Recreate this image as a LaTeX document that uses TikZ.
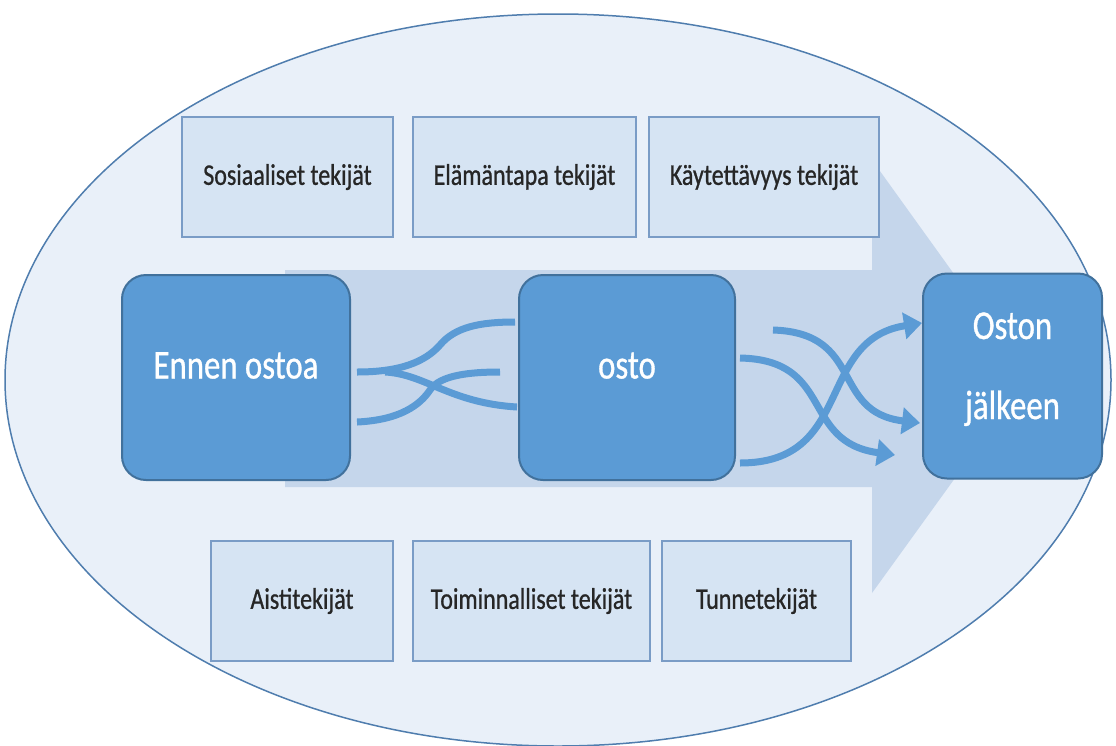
\documentclass[tikz,border=0pt]{standalone}
\usepackage{fontspec}
\setmainfont{Carlito}
\newfontfamily\cfont[FakeStretch=0.8,FakeBold=0.8]{Carlito}
\usetikzlibrary{arrows.meta}
\definecolor{ellfill}{HTML}{E9F0F9}
\definecolor{elldraw}{HTML}{4F7DAE}
\definecolor{arrfill}{HTML}{C5D6EB}
\definecolor{boxfill}{HTML}{D6E4F3}
\definecolor{boxdraw}{HTML}{7A9CC6}
\definecolor{bigfill}{HTML}{5B9BD5}
\definecolor{bigdraw}{HTML}{41719C}
\begin{document}
\begin{tikzpicture}[x=1pt,y=-1pt,
  factor/.style={draw=boxdraw, line width=1.5pt, fill=boxfill, inner sep=0pt, minimum height=120pt,
    font=\cfont\fontsize{30}{36}\selectfont, text=black!85},
  stage/.style={draw=bigdraw, line width=2pt, fill=bigfill, rounded corners=24pt, inner sep=0pt,
    minimum height=205pt, font=\cfont\fontsize{41}{48}\selectfont, text=white},
  stagetext/.style={anchor=base, inner sep=0pt, font=\cfont\fontsize{41}{48}\selectfont, text=white},
  flow/.style={draw=bigfill, line width=7pt},
  flowarrow/.style={flow, -{Triangle[length=18pt,width=26pt]}}]
\useasboundingbox (0,0) rectangle (1116,745);
% background ellipse
\draw[draw=elldraw, line width=1.5pt, fill=ellfill] (558,380) ellipse [x radius=553pt, y radius=366pt];
% big process arrow
\fill[arrfill] (285,270) -- (872,270) -- (872,160) -- (1028,377) -- (872,593) -- (872,487) -- (285,487) -- cycle;
% factor boxes
\node[factor, minimum width=211pt] (sos) at (287.5,177) {Sosiaaliset tekijät};
\node[factor, minimum width=223pt] (ela) at (524.5,177) {Elämäntapa tekijät};
\node[factor, minimum width=230pt] (kay) at (764,177) {Käytettävyys tekijät};
\node[factor, minimum width=182pt] (ais) at (302,601) {Aistitekijät};
\node[factor, minimum width=237pt] (toi) at (531.5,601) {Toiminnalliset tekijät};
\node[factor, minimum width=189pt] (tun) at (756.5,601) {Tunnetekijät};
% stages
\node[stage, minimum width=228pt, text height=26pt, text depth=24pt] (ennen) at (236,377.5) {Ennen ostoa};
\node[stage, minimum width=216pt, text height=26pt, text depth=24pt] (osto) at (627,377.5) {osto};
\node[stage, minimum width=179pt] (oj) at (1012.5,376) {};
\node[stagetext] (oj1) at (1012.5,339) {Oston};
\node[stagetext] (oj2) at (1012.5,419) {jälkeen};
% flow coordinates
\coordinate (a0) at (357,372);
\coordinate (a1) at (515,322);
\coordinate (c0) at (385,372);
\coordinate (c1) at (517,407);
\coordinate (b0) at (357,422);
\coordinate (b1) at (500,372);
\coordinate (d0) at (773,330);
\coordinate (d1) at (920,423);
\coordinate (e0) at (740,358);
\coordinate (e1) at (895,455);
\coordinate (f0) at (740,463);
\coordinate (f1) at (922,323);
% left flows
\draw[flow] (a0) .. controls (400,372) and (425,362) .. (440,345) .. controls (455,327) and (480,322) .. (a1);
\draw[flow] (c0) .. controls (425,374) and (450,403) .. (c1);
\draw[flow] (b0) .. controls (400,420) and (420,405) .. (430,390) .. controls (440,375) and (470,372) .. (b1);
% right flows
\draw[flowarrow] (d0) .. controls (865,333) and (830,412) .. (d1);
\draw[flowarrow] (e0) .. controls (835,360) and (800,442) .. (e1);
\draw[flowarrow] (f0) .. controls (855,463) and (815,340) .. (f1);
\end{tikzpicture}
\end{document}
